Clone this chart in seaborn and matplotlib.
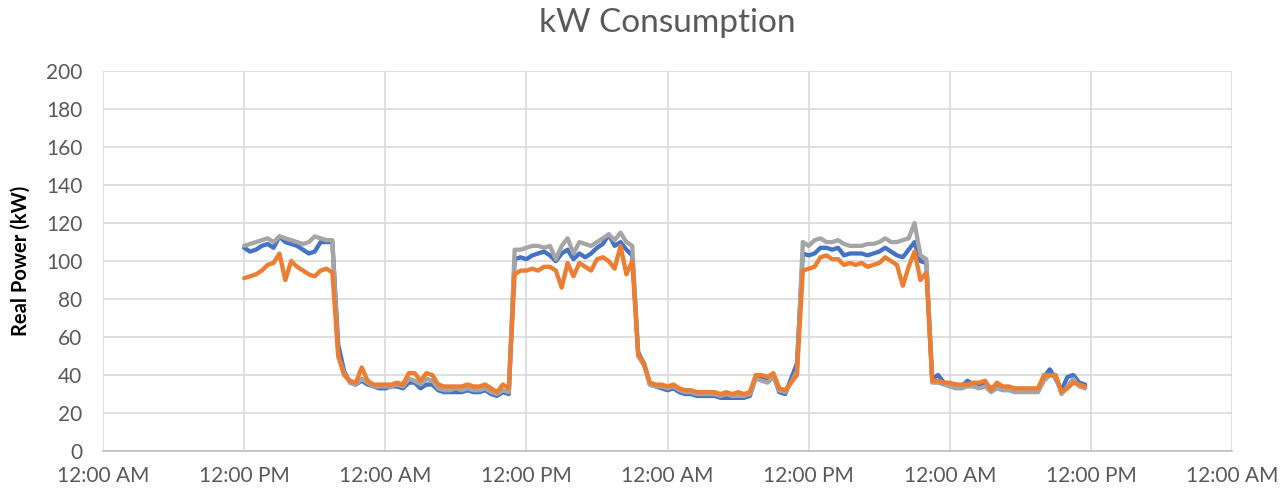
import pandas as pd
import numpy as np
import matplotlib
matplotlib.use("Agg")
import matplotlib.pyplot as plt
import matplotlib.dates as mdates
import seaborn as sns

# half-hourly readings, starting at noon on day 1
start_time = "2020-01-06 12:00"
axis_start = "2020-01-06 00:00"
axis_end = "2020-01-10 00:00"

# series 1 (blue)
blue_kw = [
    107, 105, 106, 108, 109, 107, 113, 110, 109, 108, 106, 104, 105, 110, 110, 110, 56,
    42, 36, 35, 37, 35, 34, 33, 33, 34, 34, 33, 36, 36, 33, 35, 35, 32, 31, 31, 31, 31, 32, 31, 31, 32, 30, 29, 31, 30,
    101, 102, 101, 103, 104, 105, 103, 100, 104, 106, 101, 104, 102, 104, 107, 109, 114, 108, 110, 106, 103,
    52, 46,
    35, 34, 33, 32, 33, 31, 30, 30, 29, 29, 29, 29, 28, 28, 28, 28, 28, 29, 39, 39, 37, 40, 31, 30, 38, 46,
    104, 103, 104, 107, 107, 106, 107, 103, 104, 104, 104, 103, 104, 105, 107, 105, 103, 102, 106, 110, 100, 99,
    38, 40, 36, 35, 35, 34, 37, 35, 35, 36, 33, 35, 33, 33, 33, 32, 32, 32, 32, 39, 43, 38, 32, 39, 40, 36, 35,
]

# series 2 (orange)
orange_kw = [
    91, 92, 93, 95, 98, 99, 104, 90, 100, 97, 95, 93, 92, 95, 96, 94, 50,
    40, 37, 36, 44, 37, 35, 35, 35, 35, 36, 35, 41, 41, 37, 41, 40, 35, 34, 34, 34, 34, 35, 34, 34, 35, 33, 31, 35, 33,
    93, 95, 95, 96, 95, 97, 97, 95, 86, 99, 92, 99, 97, 95, 101, 102, 100, 96, 108, 93, 100,
    51, 46,
    36, 35, 35, 34, 35, 33, 32, 32, 31, 31, 31, 31, 30, 31, 30, 31, 30, 31, 40, 40, 39, 41, 33, 32, 36, 40,
    95, 96, 97, 102, 103, 101, 101, 98, 99, 98, 99, 97, 98, 99, 102, 100, 98, 87, 97, 105, 90, 94,
    37, 37, 36, 36, 35, 35, 35, 36, 36, 37, 32, 36, 34, 34, 33, 33, 33, 33, 33, 40, 40, 40, 31, 33, 36, 35, 34,
]

# series 3 (gray)
gray_kw = [
    108, 109, 110, 111, 112, 110, 113, 112, 111, 110, 109, 110, 113, 112, 111, 111, 50,
    41, 36, 35, 38, 36, 34, 34, 34, 34, 35, 34, 38, 37, 35, 38, 37, 33, 32, 32, 33, 32, 33, 32, 32, 33, 31, 30, 32, 31,
    106, 106, 107, 108, 108, 107, 108, 101, 108, 112, 104, 110, 109, 108, 110, 112, 114, 111, 115, 110, 108,
    50, 45,
    35, 34, 34, 33, 34, 32, 31, 31, 30, 30, 30, 30, 29, 30, 29, 29, 29, 30, 38, 37, 36, 39, 32, 31, 36, 42,
    110, 108, 111, 112, 110, 110, 111, 109, 108, 108, 108, 109, 109, 110, 112, 110, 110, 111, 112, 120, 103, 101,
    36, 36, 35, 34, 33, 33, 34, 34, 33, 34, 31, 33, 32, 32, 31, 31, 31, 31, 31, 37, 40, 39, 30, 34, 38, 34, 33,
]

y_ticks = [0, 20, 40, 60, 80, 100, 120, 140, 160, 180, 200]

times = pd.date_range(start_time, periods=len(blue_kw), freq="30min")
df = pd.DataFrame({"time": times, "blue": blue_kw, "gray": gray_kw, "orange": orange_kw})

sns.set_theme(style="white")
plt.rcParams["font.family"] = ["Lato", "DejaVu Sans"]

fig = plt.figure(figsize=(12.86, 4.94), dpi=100)
ax = fig.add_axes([0.0801, 0.087, 0.878, 0.769])

# Excel draw order: blue, gray, orange on top
colors = {"blue": "#4472C4", "gray": "#A5A5A5", "orange": "#ED7D31"}
for name in ["blue", "gray", "orange"]:
    sns.lineplot(data=df, x="time", y=name, color=colors[name], linewidth=3.1, ax=ax)

ax.set_xlim(pd.Timestamp(axis_start), pd.Timestamp(axis_end))
ax.set_ylim(0, 200)
ax.set_yticks(y_ticks)
ax.xaxis.set_major_locator(mdates.HourLocator(byhour=[0, 12]))
ax.xaxis.set_major_formatter(mdates.DateFormatter("%I:%M %p"))

ax.grid(True, color="#D9D9D9", linewidth=1.2)
ax.set_axisbelow(True)
for side in ["top", "right", "left"]:
    ax.spines[side].set_visible(False)
ax.spines["bottom"].set_color("#BFBFBF")
ax.spines["bottom"].set_linewidth(1.2)

ax.tick_params(axis="both", length=0, labelsize=15, labelcolor="#595959")
ax.tick_params(axis="y", pad=15)
ax.tick_params(axis="x", pad=11)
ax.set_xlabel("")
ax.set_ylabel("Real Power (kW)", fontsize=14.5, fontweight="bold", color="black", labelpad=11)
ax.set_title("kW Consumption", fontsize=24, color="#595959", pad=28)

fig.savefig("out.png", dpi=100)
